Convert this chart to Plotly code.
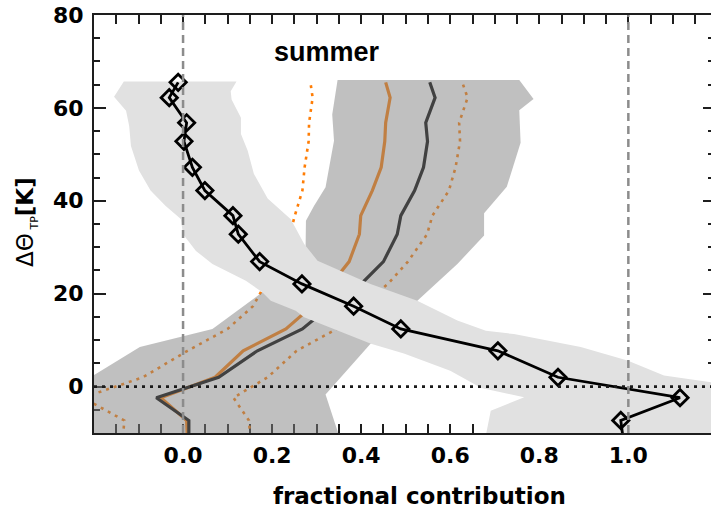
import plotly.graph_objects as go

# ---------------- data ----------------
# common vertical levels (Delta Theta_TP, K)
dtheta_levels = [-12.5, -7.3, -2.4, 2.0, 7.7, 12.4, 17.3, 22.1, 26.9, 32.8,
                 36.8, 42.2, 47.2, 52.8, 56.8, 62.2, 65.5]

# black line with diamonds
frac_black = [0.990, 0.983, 1.116, 0.842, 0.707, 0.489, 0.383, 0.267, 0.172,
              0.124, 0.112, 0.049, 0.021, 0.002, 0.008, -0.031, -0.011]
# orange solid line and its dotted spread
frac_orange = [0.010, 0.008, -0.050, 0.072, 0.135, 0.231, 0.290, 0.333, 0.373,
               0.396, 0.399, 0.425, 0.445, 0.453, 0.455, 0.465, 0.455]
frac_orange_lo = [-0.136, -0.132, -0.225, -0.090, 0.010, 0.100, 0.157, 0.185,
                  0.210, 0.240, 0.251, 0.268, 0.273, 0.282, 0.283, 0.291, 0.286]
frac_orange_hi = [0.152, 0.148, 0.113, 0.190, 0.255, 0.345, 0.400, 0.460, 0.505,
                  0.548, 0.560, 0.597, 0.612, 0.622, 0.620, 0.639, 0.627]
# dark grey solid line
frac_dark = [0.013, 0.013, -0.060, 0.080, 0.167, 0.268, 0.330, 0.400, 0.450,
             0.481, 0.489, 0.520, 0.540, 0.549, 0.545, 0.566, 0.554]

# light grey envelope around the black line (outline polygon)
light_band_x = [-0.133, -0.155, -0.128, -0.121, -0.117, -0.099, -0.073, -0.039,
                -0.005, 0.000, 0.029, 0.066, 0.141, 0.178, 0.197, 0.253, 0.272,
                0.422, 0.496, 0.600, 0.670, 0.766, 0.691, 0.680,
                1.300, 1.300, 1.187, 1.080, 0.998, 0.893, 0.743, 0.680, 0.616,
                0.526, 0.421, 0.302, 0.272, 0.257, 0.242, 0.190, 0.159, 0.145,
                0.130, 0.130, 0.109, 0.107, 0.120]
light_band_y = [65.7, 62.4, 59.4, 56.1, 51.8, 46.5, 42.2, 38.9,
                36.1, 32.8, 29.2, 26.4, 22.8, 20.3, 18.5, 16.3, 14.9,
                9.2, 7.1, 3.4, -0.3, -2.3, -5.2, -10.5,
                -10.5, 0.5, 0.9, 2.4, 5.6, 8.5, 11.3, 12.0, 14.2,
                18.5, 22.1, 27.1, 30.7, 33.5, 36.0, 40.5, 45.8, 50.8,
                54.4, 57.9, 61.8, 63.6, 65.7]

# dark grey envelope (outline polygon)
dark_band_x = [0.347, 0.755, 0.787, 0.755, 0.758, 0.727, 0.676, 0.676, 0.616,
               0.526, 0.421, 0.320, 0.350, -0.350, -0.350, -0.196, -0.097,
               0.066, 0.178, 0.275, 0.276, 0.294, 0.320, 0.339, 0.335, 0.347]
dark_band_y = [66.0, 66.0, 61.9, 59.5, 52.5, 43.0, 37.3, 32.5, 26.4,
               18.5, 9.2, -1.7, -10.5, -10.5, -4.5, 2.7, 8.5,
               12.4, 20.3, 28.5, 35.7, 38.9, 42.9, 52.9, 58.6, 66.0]

x_tickvals = [0.0, 0.2, 0.4, 0.6, 0.8, 1.0]
x_ticktext = ["0.0", "0.2", "0.4", "0.6", "0.8", "1.0"]
y_tickvals = [0, 20, 40, 60, 80]
y_ticktext = ["0", "20", "40", "60", "80"]

title_text = "summer"
x_title = "fractional contribution"
y_title = "ΔΘ<sub><span style='font-size:11px'> TP</span></sub><b>[K]</b>"

# ---------------- styles ----------------
ORANGE = "rgb(255,125,5)"
AX = "#1e1e1e"

fig = go.Figure()

# lines that sit underneath the translucent dark envelope
fig.add_trace(go.Scatter(x=frac_orange_lo, y=dtheta_levels, mode="lines",
                         line=dict(color=ORANGE, width=2.6, dash="3px,5px")))
fig.add_trace(go.Scatter(x=frac_orange_hi, y=dtheta_levels, mode="lines",
                         line=dict(color=ORANGE, width=2.6, dash="3px,5px")))
fig.add_trace(go.Scatter(x=frac_orange, y=dtheta_levels, mode="lines",
                         line=dict(color=ORANGE, width=3.2)))
fig.add_trace(go.Scatter(x=frac_dark, y=dtheta_levels, mode="lines",
                         line=dict(color="black", width=3.2)))

# dark translucent envelope
fig.add_trace(go.Scatter(x=dark_band_x, y=dark_band_y, mode="lines",
                         fill="toself", fillcolor="rgba(130,130,130,0.5)",
                         line=dict(width=0)))
# light opaque envelope
fig.add_trace(go.Scatter(x=light_band_x, y=light_band_y, mode="lines",
                         fill="toself", fillcolor="#e1e1e1",
                         line=dict(width=0)))

# black line with diamonds
fig.add_trace(go.Scatter(x=frac_black, y=dtheta_levels, mode="lines+markers",
                         line=dict(color="black", width=2.8),
                         marker=dict(symbol="diamond-open", size=12.5,
                                     color="black", line=dict(width=2.8, color="black"))))

# empty trace to create the right-hand mirrored y axis
fig.add_trace(go.Scatter(x=[], y=[], yaxis="y2", mode="lines"))

fig.update_traces(showlegend=False, hoverinfo="skip")

tickfont = dict(family="DejaVu Sans", size=22, color="black", weight="bold")

fig.update_layout(
    width=711, height=508,
    margin=dict(l=94, r=0, t=15, b=75, pad=0),
    paper_bgcolor="white", plot_bgcolor="white",
    showlegend=False,
    xaxis=dict(range=[-0.2, 1.1856], tickmode="array", tickvals=x_tickvals,
               ticktext=x_ticktext, ticks="inside", ticklen=9, tickwidth=2,
               tickcolor=AX, showline=True, linewidth=2, linecolor=AX,
               mirror="allticks", showgrid=False, zeroline=False,
               layer="below traces", tickfont=tickfont, ticklabelstandoff=2,
               minor=dict(dtick=0.05, tick0=0, ticks="inside", ticklen=5,
                          tickwidth=1.5, tickcolor=AX, showgrid=False)),
    yaxis=dict(range=[-10, 80], tickmode="array", tickvals=y_tickvals,
               ticktext=y_ticktext, ticks="inside", ticklen=12, tickwidth=2,
               tickcolor=AX, showline=True, linewidth=2, linecolor=AX,
               showgrid=False, zeroline=False, layer="below traces",
               tickfont=tickfont, ticklabelstandoff=4,
               minor=dict(dtick=5, tick0=0, ticks="inside", ticklen=6,
                          tickwidth=1.5, tickcolor=AX, showgrid=False)),
    yaxis2=dict(range=[-10, 80], overlaying="y", side="right", anchor="x",
                tickmode="array", tickvals=y_tickvals, ticks="inside",
                ticklen=8, tickwidth=2, tickcolor=AX, showline=False,
                showticklabels=False, showgrid=False, zeroline=False,
                layer="below traces",
                minor=dict(dtick=5, tick0=0, ticks="inside", ticklen=3,
                           tickwidth=1.5, tickcolor=AX, showgrid=False)),
)

# reference lines
fig.add_shape(type="line", xref="x", yref="paper", x0=0, x1=0, y0=0, y1=1,
              line=dict(color="#8c8c8c", width=2.5, dash="8px,5px"))
fig.add_shape(type="line", xref="x", yref="paper", x0=1, x1=1, y0=0, y1=1,
              line=dict(color="#8c8c8c", width=2.5, dash="8px,5px"))
fig.add_shape(type="line", xref="paper", yref="y", x0=0, x1=1, y0=0, y1=0,
              line=dict(color="#1a1a1a", width=2.8, dash="3px,5px"))

# texts
fig.add_annotation(text=title_text, xref="paper", yref="paper", x=0.378, y=0.911,
                   xanchor="center", yanchor="middle", showarrow=False,
                   font=dict(family="Liberation Sans", size=27, color="black", weight="bold"))
fig.add_annotation(text=x_title, xref="paper", yref="paper", x=0.528, y=-0.151,
                   xanchor="center", yanchor="middle", showarrow=False,
                   font=dict(family="DejaVu Sans", size=23, color="black", weight="bold"))
fig.add_annotation(text=y_title, xref="paper", yref="paper", x=-0.1086, y=0.505,
                   xanchor="center", yanchor="middle", showarrow=False, textangle=-90,
                   font=dict(family="DejaVu Sans", size=23, color="black"))

fig.write_html("out.html")
